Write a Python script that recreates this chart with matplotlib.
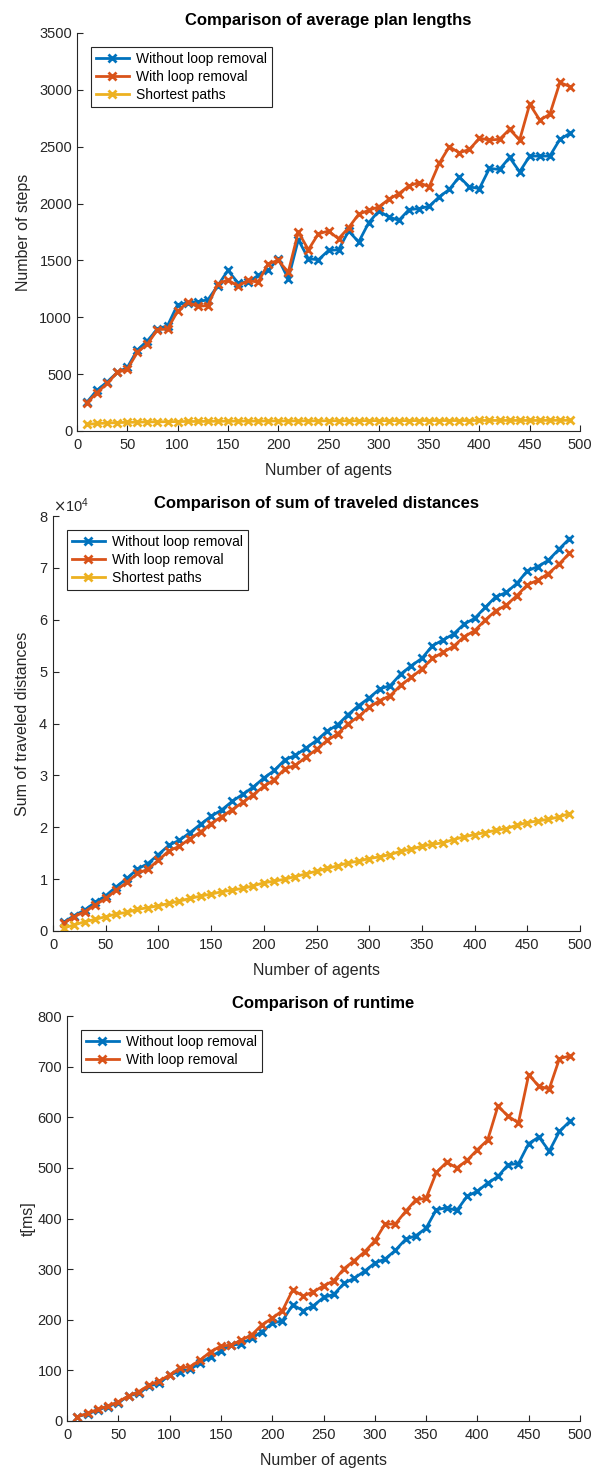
import numpy as np
import matplotlib
matplotlib.use('Agg')
import matplotlib.pyplot as plt
from matplotlib.ticker import MultipleLocator, ScalarFormatter

plt.rcParams['font.family'] = ['Liberation Sans', 'DejaVu Sans']

# number of agents in each run
agents = list(range(10, 500, 10))

# average plan length (steps)
steps_no_removal = [256, 359, 432, 515, 559, 712, 794, 897, 926, 1112,
                    1126, 1138, 1153, 1279, 1412, 1303, 1309, 1368, 1412, 1515,
                    1338, 1682, 1515, 1506, 1588, 1594, 1759, 1662, 1832, 1935,
                    1882, 1853, 1947, 1956, 1976, 2059, 2124, 2235, 2147, 2132,
                    2309, 2300, 2406, 2279, 2418, 2418, 2418, 2565, 2618]
steps_removal = [250, 338, 418, 515, 544, 691, 765, 891, 897, 1053,
                 1132, 1097, 1103, 1294, 1329, 1274, 1324, 1309, 1471, 1500,
                 1397, 1750, 1594, 1735, 1758, 1691, 1788, 1906, 1941, 1971,
                 2038, 2088, 2156, 2185, 2147, 2353, 2500, 2447, 2476, 2574,
                 2559, 2565, 2653, 2559, 2874, 2735, 2785, 3065, 3029]
steps_shortest = [58, 66, 70, 74, 76, 78, 80, 81, 82, 83,
                  84, 84, 85, 86, 86, 87, 87, 87, 88, 88,
                  88, 89, 89, 89, 90, 90, 90, 90, 91, 91,
                  91, 91, 91, 92, 92, 92, 92, 92, 92, 93,
                  93, 93, 93, 93, 93, 93, 94, 94, 94]

# sum of traveled distances
dist_no_removal = [1670, 2950, 4040, 5510, 6790, 8530, 10130, 11920, 13010, 14740,
                   16540, 17500, 18970, 20580, 22120, 23330, 25000, 26350, 27760, 29490,
                   30960, 33010, 33850, 35260, 36730, 38530, 39740, 41730, 43460, 44940,
                   46670, 47310, 49550, 51150, 52560, 55000, 56090, 57240, 59170, 60260,
                   62370, 64420, 65260, 66990, 69420, 70260, 71470, 73590, 75640]
dist_removal = [1470, 2760, 3720, 5000, 6280, 7880, 9360, 11090, 11920, 13650,
                15450, 16350, 17820, 19100, 20710, 22050, 23400, 24800, 26280, 27880,
                29170, 31280, 31920, 33530, 35000, 36730, 38010, 39940, 41350, 43140,
                44420, 45380, 47400, 48910, 50510, 52560, 53720, 54870, 56730, 57880,
                59940, 61730, 62820, 64620, 66730, 67630, 68910, 70710, 72820]
dist_shortest = [600, 1150, 1790, 2240, 2760, 3270, 3590, 4170, 4490, 4870,
                 5320, 5770, 6280, 6730, 7120, 7560, 7880, 8210, 8700, 9300,
                 9600, 10000, 10500, 11000, 11540, 12050, 12560, 13140, 13460, 13970,
                 14290, 14740, 15380, 15770, 16350, 16730, 16990, 17630, 18140, 18590,
                 18970, 19420, 19740, 20380, 20900, 21220, 21540, 21990, 22630]

# runtime in ms
time_no_removal = [8.6, 13.8, 21.8, 28.4, 36.3, 49.5, 54.7, 69.2, 74.5, 91,
                   97.6, 102, 115, 127, 138.5, 150, 152, 163.6, 176.7, 193,
                   198, 229.5, 218, 227.5, 244, 250, 272, 282, 296, 312,
                   320, 337, 359, 366, 381, 417.5, 421, 416, 444, 454,
                   470, 483, 506.5, 508.5, 548, 561, 533, 572, 592]
time_removal = [8.6, 15, 23, 29.7, 38, 49.5, 58, 71, 79, 91,
                104, 107.5, 120.7, 137, 148, 150, 160, 170, 190, 203,
                218, 259, 247, 255, 267, 277, 301, 317, 334, 356,
                389, 389, 414, 437, 440, 491, 511, 500, 515, 536,
                555, 622, 602, 589, 684, 661, 656, 716, 721]

labels = ['Without loop removal', 'With loop removal', 'Shortest paths']
colors = ['#0072BD', '#D95319', '#EDB120']
axcol = '#262626'

W, H = 595, 1473
fig = plt.figure(figsize=(W / 100, H / 100), dpi=100)


def make_axes(left, top, right, bottom):
    return fig.add_axes([left / W, 1 - bottom / H, (right - left) / W, (bottom - top) / H])


def style(ax, ylim, ystep):
    for s in ['top', 'right']:
        ax.spines[s].set_visible(False)
    for s in ['left', 'bottom']:
        ax.spines[s].set_color(axcol)
        ax.spines[s].set_linewidth(0.8)
    ax.tick_params(direction='in', length=4, width=0.8, colors=axcol, labelsize=10.5)
    ax.tick_params(axis='x', pad=5)
    ax.set_xlim(0, 500)
    ax.set_ylim(*ylim)
    ax.xaxis.set_major_locator(MultipleLocator(50))
    ax.yaxis.set_major_locator(MultipleLocator(ystep))
    ax.set_xlabel('Number of agents', fontsize=11.5, color=axcol, labelpad=8)


def draw(ax, series):
    for i, ys in enumerate(series):
        ax.plot(agents, ys, color=colors[i], lw=2, marker='x', ms=6, mew=2, label=labels[i])
    leg = ax.legend(loc='upper left', fontsize=10, frameon=True, fancybox=False,
                    edgecolor=axcol, framealpha=1, handlelength=2.4,
                    borderaxespad=1.0, labelspacing=0.3, borderpad=0.35, handletextpad=0.5)
    leg.get_frame().set_linewidth(0.8)


# average plan lengths
ax1 = make_axes(77, 33, 580, 431)
draw(ax1, [steps_no_removal, steps_removal, steps_shortest])
style(ax1, (0, 3500), 500)
ax1.set_ylabel('Number of steps', fontsize=11.5, color=axcol, labelpad=6)
ax1.set_title('Comparison of average plan lengths', fontsize=12, fontweight='bold', pad=6)

# sum of traveled distances
ax2 = make_axes(53, 516, 580, 931)
draw(ax2, [dist_no_removal, dist_removal, dist_shortest])
style(ax2, (0, 80000), 10000)
fmt = ScalarFormatter(useMathText=True)
fmt.set_powerlimits((4, 4))
ax2.yaxis.set_major_formatter(fmt)
ax2.yaxis.get_offset_text().set_fontsize(10.5)
ax2.yaxis.get_offset_text().set_color(axcol)
ax2.set_ylabel('Sum of traveled distances', fontsize=11.5, color=axcol, labelpad=6)
ax2.set_title('Comparison of sum of traveled distances', fontsize=12, fontweight='bold', pad=6)

# runtime
ax3 = make_axes(67, 1016, 580, 1421)
draw(ax3, [time_no_removal, time_removal])
style(ax3, (0, 800), 100)
ax3.set_ylabel('t[ms]', fontsize=11.5, color=axcol, labelpad=1)
ax3.set_title('Comparison of runtime', fontsize=12, fontweight='bold', pad=6)

fig.savefig('out.png', dpi=100, facecolor='white')
